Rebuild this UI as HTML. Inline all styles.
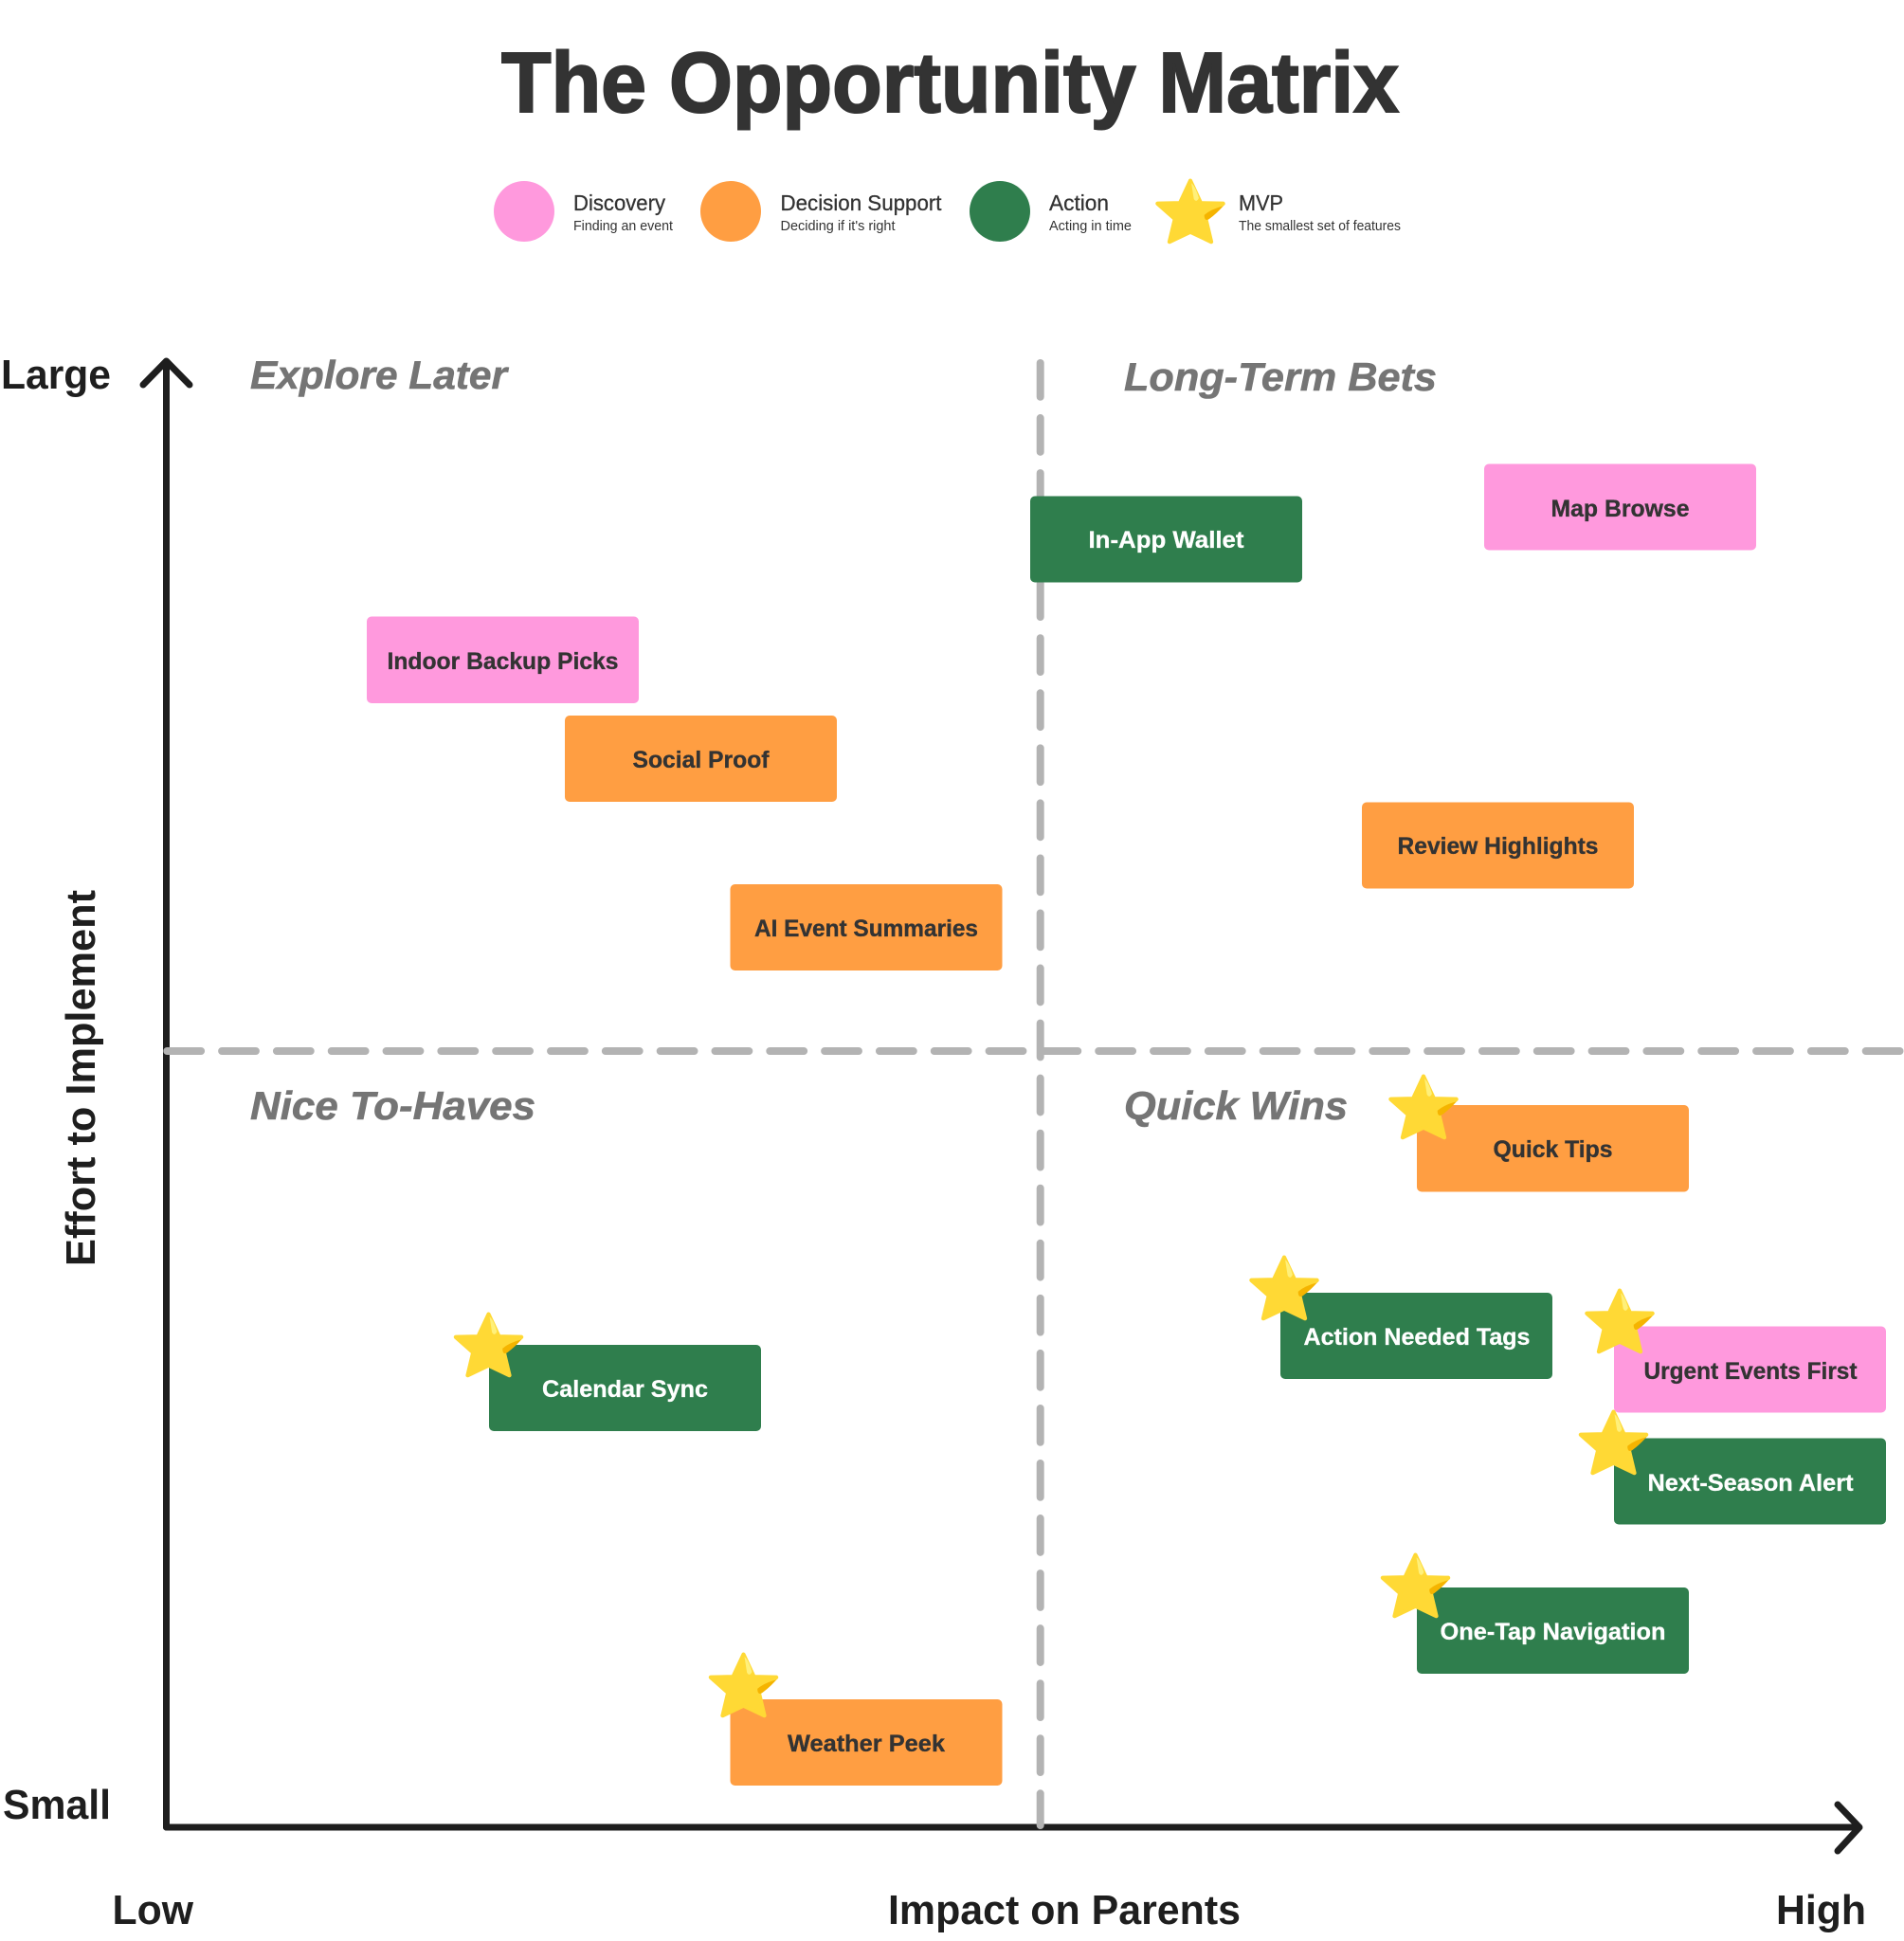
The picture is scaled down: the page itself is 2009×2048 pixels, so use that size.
<!DOCTYPE html>
<html><head><meta charset="utf-8"><style>
html,body{margin:0;padding:0;background:#fff}
svg{display:block}
text{font-family:"Liberation Sans",sans-serif;font-weight:700}
</style></head><body>
<svg width="2009" height="2048" viewBox="0 0 2009 2048" xmlns="http://www.w3.org/2000/svg">
<defs>
<g id="star" transform="translate(0,-1) scale(1.05)">
<path d="M0 2.5 L10.500 25 L33 25.500 L15.500 41 L21 64 L0 54 L-21 64 L-15.500 41 L-33 25.500 L-10.500 25 Z" fill="#FFD935" stroke="#FFD935" stroke-width="4" stroke-linejoin="round"/>
<path d="M1 5 Q5 8 8.500 20 Q6 25 3.500 21 Z" fill="#FFF07A"/>
<path d="M14 37 Q21 31 33 28 Q27 35 19 41 Q14 44 14 37 Z" fill="#F5B400"/>
</g>
</defs>
<text x="529" y="118" font-size="90" fill="#333" stroke="#333" stroke-width="2" textLength="947" lengthAdjust="spacingAndGlyphs">The Opportunity Matrix</text>
<circle cx="553" cy="223" r="32" fill="#FF99DD"/>
<circle cx="771" cy="223" r="32" fill="#FF9E42"/>
<circle cx="1055" cy="223" r="32" fill="#2F7E4D"/>
<use href="#star" x="1256" y="189"/>
<g fill="#333" font-size="23" stroke="#333" stroke-width=".3">
<text style="font-weight:400" x="605" y="222" textLength="97" lengthAdjust="spacingAndGlyphs">Discovery</text>
<text style="font-weight:400" x="823.500" y="222" textLength="170" lengthAdjust="spacingAndGlyphs">Decision Support</text>
<text style="font-weight:400" x="1107" y="222" textLength="63" lengthAdjust="spacingAndGlyphs">Action</text>
<text style="font-weight:400" x="1307" y="222" textLength="47" lengthAdjust="spacingAndGlyphs">MVP</text>
</g>
<g fill="#333" font-size="14.5">
<text style="font-weight:400" x="605" y="243" textLength="105" lengthAdjust="spacingAndGlyphs">Finding an event</text>
<text style="font-weight:400" x="823.500" y="243" textLength="121" lengthAdjust="spacingAndGlyphs">Deciding if it's right</text>
<text style="font-weight:400" x="1107" y="243" textLength="87" lengthAdjust="spacingAndGlyphs">Acting in time</text>
<text style="font-weight:400" x="1307" y="243" textLength="171" lengthAdjust="spacingAndGlyphs">The smallest set of features</text>
</g>
<g fill="none" stroke="#1E1E1E" stroke-width="7" stroke-linecap="round" stroke-linejoin="round">
<path d="M175.500 1928 V382"/><path d="M151 406 L175.500 381 L200 406"/>
<path d="M175.500 1928 H1961"/><path d="M1939 1904 L1962 1928 L1939 1953"/>
</g>
<g stroke="#B3B3B3" stroke-width="8" stroke-linecap="round" fill="none">
<path d="M176.300 1109 H2013" stroke-dasharray="35.800 22.020"/>
<path d="M1097.700 383 V1926" stroke-dasharray="35.800 22.250"/>
</g>
<g fill="#757575" stroke="#757575" stroke-width=".6" font-size="42" font-style="italic">
<text x="264" y="410" textLength="271" lengthAdjust="spacingAndGlyphs">Explore Later</text>
<text x="1186" y="412" textLength="330" lengthAdjust="spacingAndGlyphs">Long-Term Bets</text>
<text x="264" y="1181" textLength="301" lengthAdjust="spacingAndGlyphs">Nice To-Haves</text>
<text x="1186" y="1181" textLength="236" lengthAdjust="spacingAndGlyphs">Quick Wins</text>
</g>
<g fill="#1E1E1E" font-size="44">
<text x="1" y="410" textLength="116" lengthAdjust="spacingAndGlyphs">Large</text>
<text x="3" y="1919" textLength="114" lengthAdjust="spacingAndGlyphs">Small</text>
<text x="118.500" y="2030" textLength="85.500" lengthAdjust="spacingAndGlyphs">Low</text>
<text x="937" y="2030" textLength="372" lengthAdjust="spacingAndGlyphs">Impact on Parents</text>
<text x="1874" y="2030" textLength="95" lengthAdjust="spacingAndGlyphs">High</text>
<text transform="translate(100,1336) rotate(-90)" textLength="397" lengthAdjust="spacingAndGlyphs">Effort to Implement</text>
</g>
<g>
<rect x="1566" y="489.500" width="287" height="91" rx="5" fill="#FF99DD"/>
<rect x="1087" y="523.500" width="287" height="91" rx="5" fill="#2F7E4D"/>
<rect x="387" y="650.500" width="287" height="91.500" rx="5" fill="#FF99DD"/>
<rect x="596" y="755" width="287" height="91" rx="5" fill="#FF9E42"/>
<rect x="1437" y="846.500" width="287" height="91" rx="5" fill="#FF9E42"/>
<rect x="770.500" y="933" width="287" height="91" rx="5" fill="#FF9E42"/>
<rect x="1495" y="1166" width="287" height="91.500" rx="5" fill="#FF9E42"/>
<rect x="1351" y="1364" width="287" height="91" rx="5" fill="#2F7E4D"/>
<rect x="1703" y="1399.500" width="287" height="91" rx="5" fill="#FF99DD"/>
<rect x="1703" y="1517.500" width="287" height="91" rx="5" fill="#2F7E4D"/>
<rect x="516" y="1419" width="287" height="91" rx="5" fill="#2F7E4D"/>
<rect x="1495" y="1675" width="287" height="91" rx="5" fill="#2F7E4D"/>
<rect x="770.500" y="1793" width="287" height="91" rx="5" fill="#FF9E42"/>
</g>
<g font-size="25" text-anchor="middle" fill="#333" stroke="#333" stroke-width=".35" transform="translate(0,-1)">
<text x="1709.500" y="546" textLength="146" lengthAdjust="spacingAndGlyphs">Map Browse</text>
<text x="530.500" y="707" textLength="244" lengthAdjust="spacingAndGlyphs">Indoor Backup Picks</text>
<text x="739.500" y="811" textLength="144" lengthAdjust="spacingAndGlyphs">Social Proof</text>
<text x="1580.500" y="902" textLength="212" lengthAdjust="spacingAndGlyphs">Review Highlights</text>
<text x="914" y="989" textLength="236" lengthAdjust="spacingAndGlyphs">AI Event Summaries</text>
<text x="1638.500" y="1222" textLength="126" lengthAdjust="spacingAndGlyphs">Quick Tips</text>
<text x="1847" y="1456" textLength="225" lengthAdjust="spacingAndGlyphs">Urgent Events First</text>
<text x="914" y="1849" textLength="166" lengthAdjust="spacingAndGlyphs">Weather Peek</text>
</g>
<g font-size="25" text-anchor="middle" fill="#fff" stroke="#fff" stroke-width=".3" transform="translate(0,-1)">
<text x="1230.500" y="579" textLength="164" lengthAdjust="spacingAndGlyphs">In-App Wallet</text>
<text x="1495" y="1420" textLength="239" lengthAdjust="spacingAndGlyphs">Action Needed Tags</text>
<text x="1847" y="1574" textLength="217" lengthAdjust="spacingAndGlyphs">Next-Season Alert</text>
<text x="659.500" y="1475" textLength="175" lengthAdjust="spacingAndGlyphs">Calendar Sync</text>
<text x="1638.500" y="1731" textLength="238" lengthAdjust="spacingAndGlyphs">One-Tap Navigation</text>
</g>
<use href="#star" x="1502" y="1134"/>
<use href="#star" x="1355" y="1325"/>
<use href="#star" x="1709" y="1360"/>
<use href="#star" x="1702.500" y="1488"/>
<use href="#star" x="515.500" y="1385"/>
<use href="#star" x="1493.500" y="1639"/>
<use href="#star" x="784.500" y="1744"/>
</svg>
</body></html>
